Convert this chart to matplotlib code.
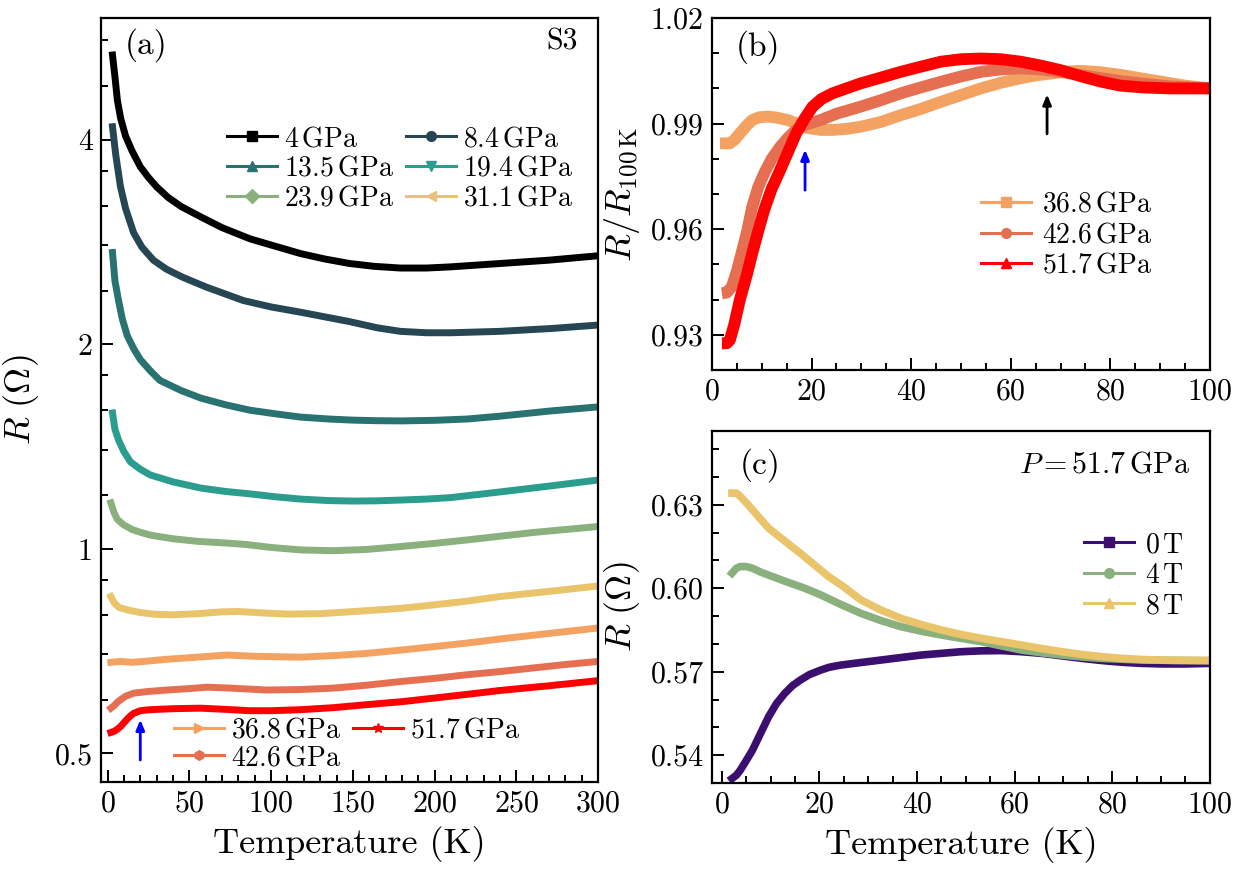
import matplotlib
matplotlib.use("Agg")
import matplotlib.pyplot as plt
from matplotlib.lines import Line2D
from matplotlib.ticker import FixedLocator, MultipleLocator, NullFormatter, FixedFormatter

plt.rcParams['font.family'] = ['cmr10', 'DejaVu Serif']
plt.rcParams['mathtext.fontset'] = 'cm'
plt.rcParams['axes.formatter.use_mathtext'] = True
plt.rcParams['axes.unicode_minus'] = False

# ---------------- data: panel (a) ----------------
T_4 = [3, 4.5, 6, 8, 11, 15, 20, 25, 30, 37, 45, 57, 70, 87, 100, 118, 133, 148, 163, 179, 195, 209.5, 240, 270, 300]
R_4 = [5.33, 4.95, 4.57, 4.30, 4.05, 3.85, 3.65, 3.52, 3.41, 3.29, 3.19, 3.08, 2.97, 2.86, 2.80, 2.72, 2.67,
       2.63, 2.605, 2.59, 2.59, 2.60, 2.63, 2.66, 2.70]
T_8 = [3, 5, 7.9, 11, 15.9, 21, 28, 36, 46, 60, 83, 100, 118, 148, 165, 179, 195, 210, 240, 271, 300]
R_8 = [4.18, 3.80, 3.41, 3.17, 2.92, 2.78, 2.66, 2.58, 2.51, 2.43, 2.32, 2.27, 2.23, 2.16, 2.115, 2.09,
       2.08, 2.08, 2.09, 2.11, 2.135]
T_13 = [3, 4.5, 6.7, 9, 12, 16, 20, 26, 32, 45, 57, 72, 87, 103, 118, 135, 150, 165, 180, 200, 220, 240, 271, 300]
R_13 = [2.73, 2.48, 2.32, 2.18, 2.06, 1.97, 1.90, 1.83, 1.77, 1.71, 1.667, 1.63, 1.60, 1.58, 1.563, 1.553,
        1.547, 1.544, 1.543, 1.546, 1.553, 1.568, 1.596, 1.618]
T_19 = [3, 4.5, 6.7, 10, 14, 20, 26, 40, 57, 72, 87, 103, 118, 135, 150, 165, 179, 195, 210, 240, 271, 300]
R_19 = [1.585, 1.50, 1.446, 1.39, 1.343, 1.31, 1.285, 1.255, 1.229, 1.215, 1.205, 1.193, 1.184, 1.178,
        1.176, 1.177, 1.180, 1.184, 1.19, 1.213, 1.238, 1.263]
T_23 = [2, 4, 6, 9.8, 15, 20, 26, 40, 55, 73, 85, 100, 118, 138, 158, 179, 200, 220, 240, 260, 280, 300]
R_23 = [1.169, 1.13, 1.105, 1.085, 1.068, 1.058, 1.048, 1.035, 1.026, 1.020, 1.015, 1.005, 0.9966, 0.994,
        0.998, 1.008, 1.019, 1.031, 1.044, 1.057, 1.068, 1.079]
T_31 = [2, 4, 7, 12, 20, 30, 40, 55, 70, 80, 95, 110, 130, 158, 180, 199, 220, 240, 270, 300]
R_31 = [0.851, 0.833, 0.82, 0.8135, 0.806, 0.801, 0.800, 0.803, 0.808, 0.809, 0.805, 0.802, 0.803, 0.811,
        0.818, 0.827, 0.838, 0.851, 0.866, 0.882]
T_36 = [2, 8, 15, 22, 36, 55, 73, 90, 118, 140, 158.6, 180, 199, 220, 240, 270, 300]
R_36 = [0.681, 0.683, 0.681, 0.683, 0.688, 0.693, 0.698, 0.695, 0.693, 0.697, 0.702, 0.710, 0.718, 0.727,
        0.737, 0.751, 0.765]
T_42 = [2, 4, 6, 8, 11, 16, 25, 36.5, 50, 61, 75, 97.5, 118, 138, 158, 179, 200, 220, 240, 260, 280, 300]
R_42 = [0.583, 0.588, 0.595, 0.600, 0.607, 0.6135, 0.617, 0.620, 0.623, 0.626, 0.624, 0.620, 0.621, 0.624,
        0.630, 0.638, 0.645, 0.653, 0.660, 0.668, 0.676, 0.683]
T_51 = [2, 4, 6, 8, 10, 12, 14, 16, 20, 26, 40, 56.8, 70, 87, 100, 118, 138, 158.6, 180, 199, 220, 240, 270, 300]
R_51 = [0.537, 0.539, 0.543, 0.548, 0.555, 0.562, 0.568, 0.573, 0.578, 0.580, 0.582, 0.583, 0.581, 0.578,
        0.578, 0.580, 0.584, 0.590, 0.596, 0.603, 0.611, 0.619, 0.629, 0.640]

labels_a = ['4 GPa', '8.4 GPa', '13.5 GPa', '19.4 GPa', '23.9 GPa', '31.1 GPa',
            '36.8 GPa', '42.6 GPa', '51.7 GPa']
colors_a = ['#000000', '#264653', '#287271', '#2a9d8f', '#8ab17d', '#e9c46a',
            '#f4a261', '#e76f51', '#ff0000']
markers_a = ['s', 'o', '^', 'v', 'D', '<', '>', 'h', '*']
series_a = [(T_4, R_4), (T_8, R_8), (T_13, R_13), (T_19, R_19), (T_23, R_23),
            (T_31, R_31), (T_36, R_36), (T_42, R_42), (T_51, R_51)]

# ---------------- data: panel (b) ----------------
Tb_36 = [1.6, 3.6, 4.6, 5.6, 7, 8.1, 9.5, 11.3, 13, 15.3, 17.5, 19.4, 22, 24.2, 27, 29.8, 34, 37.9, 42, 46,
         50, 54, 58, 62, 65, 68.5, 71, 74.2, 78, 82.3, 86, 90.3, 95, 100]
Nb_36 = [0.9844, 0.9844, 0.9855, 0.9872, 0.9895, 0.991, 0.9918, 0.992, 0.9917, 0.991, 0.9897, 0.9887,
         0.9882, 0.9882, 0.9885, 0.9891, 0.9905, 0.9924, 0.9942, 0.9962, 0.9981, 1.0000, 1.0016, 1.0029,
         1.0037, 1.0043, 1.0048, 1.0050, 1.0046, 1.0038, 1.0029, 1.0019, 1.0008, 1.0000]
Tb_42 = [2, 3, 4, 5, 5.6, 7, 8.1, 9.3, 10.5, 12, 13.7, 15.3, 16.9, 19, 21.8, 25, 29.8, 34, 37.9, 42, 46,
         50, 54, 58, 62, 66, 70, 74, 78.2, 82, 86.3, 92, 100]
Nb_42 = [0.9418, 0.9420, 0.9437, 0.9480, 0.9513, 0.9590, 0.9664, 0.972, 0.9759, 0.980, 0.9834, 0.986,
         0.9882, 0.9898, 0.991, 0.9928, 0.9948, 0.9967, 0.9986, 1.0003, 1.0019, 1.0034, 1.0047, 1.0054,
         1.0057, 1.0054, 1.0047, 1.0038, 1.0029, 1.0021, 1.0014, 1.0006, 1.0000]
Tb_51 = [2, 3, 3.6, 4.5, 5.6, 7, 8.1, 9.3, 10.5, 12, 13.7, 15.3, 16.9, 18.5, 20.2, 22, 24.2, 27, 29.8,
         34, 37.9, 42, 46, 50, 54, 58, 62, 66, 70, 74, 78.2, 82, 86.3, 92, 100]
Nb_51 = [0.9276, 0.9276, 0.9285, 0.933, 0.9399, 0.9470, 0.9532, 0.9595, 0.9655, 0.9715, 0.9768, 0.982,
         0.9872, 0.9912, 0.9948, 0.9970, 0.9986, 1.0000, 1.0014, 1.0031, 1.0047, 1.0062, 1.0076, 1.0083,
         1.0085, 1.0083, 1.0076, 1.0065, 1.0052, 1.0035, 1.0019, 1.0008, 1.0003, 1.0000, 1.0000]
labels_b = ['36.8 GPa', '42.6 GPa', '51.7 GPa']
colors_b = ['#f4a261', '#e76f51', '#ff0000']
markers_b = ['s', 'o', '^']

# ---------------- data: panel (c) ----------------
Tc_0 = [2.1, 3, 3.8, 5, 6.3, 8, 9.6, 11.2, 12.9, 14.5, 16.1, 18, 20.3, 22, 24.4, 28, 32.6, 36.7, 40.9,
        45, 49.1, 53, 57.3, 61.4, 65.6, 69.7, 73.8, 78, 82, 86, 90.3, 95, 100]
Rc_0 = [0.5316, 0.5328, 0.5346, 0.538, 0.5418, 0.548, 0.5538, 0.5585, 0.5622, 0.5650, 0.567, 0.569,
        0.5706, 0.5716, 0.5724, 0.5732, 0.5742, 0.5751, 0.576, 0.5766, 0.5772, 0.5775, 0.5776, 0.5772,
        0.5766, 0.5757, 0.5748, 0.5740, 0.5734, 0.5730, 0.5728, 0.5728, 0.573]
Tc_4 = [2.1, 3, 3.8, 5, 6.3, 8, 10.4, 13, 16.1, 18, 20.3, 24, 28.5, 32.6, 36.7, 41, 45, 49, 53.2, 57,
        61.4, 65.6, 69.7, 73.8, 77.9, 82, 86.2, 92, 100]
Rc_4 = [0.6054, 0.6072, 0.6078, 0.6078, 0.6072, 0.6058, 0.6042, 0.6025, 0.6006, 0.5993, 0.5976, 0.5945,
        0.591, 0.5884, 0.5862, 0.5845, 0.5832, 0.5820, 0.5808, 0.5794, 0.5778, 0.5768, 0.576, 0.5753,
        0.5748, 0.5745, 0.5742, 0.5741, 0.574]
Tc_8 = [2.1, 3, 3.8, 5, 6.3, 8, 9.6, 12.9, 16.1, 19, 21.9, 25, 28.5, 32.6, 36.7, 41, 45, 49, 53.2, 57.3,
        61.4, 65.6, 69.7, 73.8, 77.9, 82, 86.2, 92, 100]
Rc_8 = [0.6342, 0.6342, 0.633, 0.6308, 0.6282, 0.6248, 0.6216, 0.617, 0.6126, 0.6084, 0.6042, 0.6005,
        0.5958, 0.5922, 0.5892, 0.5869, 0.585, 0.5834, 0.582, 0.5808, 0.5796, 0.5783, 0.5772, 0.5762,
        0.5754, 0.5748, 0.5744, 0.5741, 0.574]
labels_c = ['0 T', '4 T', '8 T']
colors_c = ['#3b0f6f', '#8ab17d', '#e9c46a']
markers_c = ['s', 'o', '^']

# ---------------- figure ----------------
fig = plt.figure(figsize=(12.49, 8.71), dpi=100)
axa = fig.add_axes([0.0809, 0.1022, 0.398, 0.877])
axb = fig.add_axes([0.5700, 0.5752, 0.3987, 0.4041])
axc = fig.add_axes([0.5700, 0.1010, 0.3987, 0.4041])

TICK_FS = 21.5
LEG_FS = 20
LAB_FS = 26

def style(ax):
    for s in ax.spines.values():
        s.set_linewidth(1.6)
    ax.tick_params(which='both', direction='in', top=False, right=False,
                   labelsize=TICK_FS, width=1.4, pad=6)
    ax.tick_params(which='major', length=8.5)
    ax.tick_params(which='minor', length=5)

def leg_handles(colors, markers, labels):
    return [Line2D([0], [0], color=c, lw=2.2, marker=m, ms=7, label=l)
            for c, m, l in zip(colors, markers, labels)]

def gpa(l):
    num = l.split()[0]
    return r'$%s\,\mathrm{GPa}$' % num

# ---- panel (a)
for (T, R), c in zip(series_a, colors_a):
    axa.plot(T, R, color=c, lw=5, solid_joinstyle='round')
axa.set_yscale('log')
axa.set_xlim(-4, 300)
axa.set_ylim(0.454, 6.04)
axa.yaxis.set_major_locator(FixedLocator([0.5, 1, 2, 4]))
axa.yaxis.set_major_formatter(FixedFormatter(['0.5', '1', '2', '4']))
axa.yaxis.set_minor_locator(FixedLocator([0.6, 0.7, 0.8, 0.9, 1.2, 1.4, 1.6, 1.8,
                                          2.4, 2.8, 3.2, 3.6, 4.8, 5.6]))
axa.yaxis.set_minor_formatter(NullFormatter())
axa.xaxis.set_major_locator(MultipleLocator(50))
axa.xaxis.set_minor_locator(MultipleLocator(10))
style(axa)
axa.set_xlabel('Temperature (K)', fontsize=LAB_FS, labelpad=6)
axa.set_ylabel(r'$R\ (\Omega)$', fontsize=LAB_FS, labelpad=10)
axa.text(0.048, 0.965, '(a)', transform=axa.transAxes, fontsize=24, va='center', ha='left')
axa.text(0.958, 0.969, 'S3', transform=axa.transAxes, fontsize=21.5, va='center', ha='right')
axa.annotate('', xy=(20, 0.566), xytext=(20, 0.4845),
             arrowprops=dict(arrowstyle='-|>,head_length=0.6,head_width=0.25', color='blue', lw=2))

h = leg_handles(colors_a, markers_a, [gpa(l) for l in labels_a])
order = [0, 2, 4, 1, 3, 5]
leg1 = axa.legend([h[i] for i in order], [h[i].get_label() for i in order], ncol=2,
                  loc='upper left', bbox_to_anchor=(0.2535, 0.859), frameon=False,
                  fontsize=LEG_FS, handlelength=1.8, handletextpad=0.25, columnspacing=0.45,
                  labelspacing=0.12, borderpad=0, borderaxespad=0)
axa.add_artist(leg1)
order2 = [6, 7, 8]
axa.legend([h[i] for i in order2], [h[i].get_label() for i in order2], ncol=2,
           loc='upper left', bbox_to_anchor=(0.147, 0.085), frameon=False,
           fontsize=LEG_FS, handlelength=1.8, handletextpad=0.25, columnspacing=0.45,
           labelspacing=0.05, borderpad=0, borderaxespad=0)

# ---- panel (b)
for (T, N), c in zip([(Tb_36, Nb_36), (Tb_42, Nb_42), (Tb_51, Nb_51)], colors_b):
    axb.plot(T, N, color=c, lw=8.5, solid_capstyle='butt', solid_joinstyle='round')
axb.set_xlim(0, 100)
axb.set_ylim(0.92, 1.02)
axb.yaxis.set_major_locator(FixedLocator([0.93, 0.96, 0.99, 1.02]))
axb.yaxis.set_major_formatter(FixedFormatter(['0.93', '0.96', '0.99', '1.02']))
axb.yaxis.set_minor_locator(MultipleLocator(0.01))
axb.xaxis.set_major_locator(MultipleLocator(20))
axb.xaxis.set_minor_locator(MultipleLocator(5))
style(axb)
axb.set_ylabel(r'$R/R_{100\,\mathrm{K}}$', fontsize=LAB_FS, labelpad=6)
axb.text(0.048, 0.918, '(b)', transform=axb.transAxes, fontsize=24, va='center', ha='left')
axb.annotate('', xy=(18.7, 0.9834), xytext=(18.7, 0.9703),
             arrowprops=dict(arrowstyle='-|>,head_length=0.6,head_width=0.25', color='blue', lw=2))
axb.annotate('', xy=(67.3, 0.9991), xytext=(67.3, 0.9863),
             arrowprops=dict(arrowstyle='-|>,head_length=0.6,head_width=0.25', color='black', lw=2))
hb = leg_handles(colors_b, markers_b, [gpa(l) for l in labels_b])
axb.legend(handles=hb, loc='upper left', bbox_to_anchor=(0.540, 0.507), frameon=False,
           fontsize=LEG_FS, handlelength=1.8, handletextpad=0.4, labelspacing=0.15,
           borderpad=0, borderaxespad=0)

# ---- panel (c)
for (T, R), c in zip([(Tc_0, Rc_0), (Tc_4, Rc_4), (Tc_8, Rc_8)], colors_c):
    axc.plot(T, R, color=c, lw=5.5, solid_joinstyle='round')
axc.set_xlim(-2, 100)
axc.set_ylim(0.53, 0.6565)
axc.yaxis.set_major_locator(FixedLocator([0.54, 0.57, 0.60, 0.63]))
axc.yaxis.set_major_formatter(FixedFormatter(['0.54', '0.57', '0.60', '0.63']))
axc.yaxis.set_minor_locator(MultipleLocator(0.01))
axc.xaxis.set_major_locator(MultipleLocator(20))
axc.xaxis.set_minor_locator(MultipleLocator(5))
style(axc)
axc.set_xlabel('Temperature (K)', fontsize=LAB_FS, labelpad=6)
axc.set_ylabel(r'$R\ (\Omega)$', fontsize=LAB_FS, labelpad=6)
axc.text(0.056, 0.903, '(c)', transform=axc.transAxes, fontsize=24, va='center', ha='left')
axc.text(0.96, 0.903, r'$P=51.7\,\mathrm{GPa}$', transform=axc.transAxes,
         fontsize=21.5, va='center', ha='right')
hc = leg_handles(colors_c, markers_c, [r'$0\,\mathrm{T}$', r'$4\,\mathrm{T}$', r'$8\,\mathrm{T}$'])
axc.legend(handles=hc, loc='upper left', bbox_to_anchor=(0.747, 0.714), frameon=False,
           fontsize=LEG_FS, handlelength=1.8, handletextpad=0.4, labelspacing=0.15,
           borderpad=0, borderaxespad=0)

fig.savefig('out.png', dpi=100)
